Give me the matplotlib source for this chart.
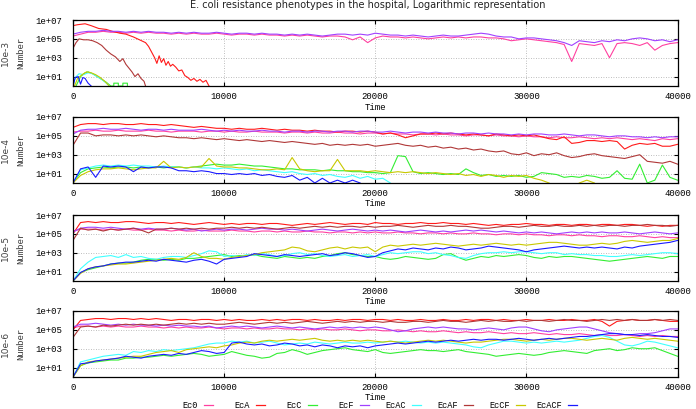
import numpy as np
import matplotlib
matplotlib.use("Agg")
import matplotlib.pyplot as plt
from matplotlib.lines import Line2D
from matplotlib.ticker import NullLocator

# long traces are sampled every 500 time steps
time = np.arange(0, 40001, 500)

labels = ["Ec0", "EcA", "EcC", "EcF", "EcAC", "EcAF", "EcCF", "EcACF"]
colors = ["#ff40a0", "#ff1a1a", "#33ee33", "#a040ff", "#40ffff", "#b03838", "#c8c800", "#1a1aff"]
row_labels = ["10e-3", "10e-4", "10e-5", "10e-6"]
xticks = [0, 10000, 20000, 30000, 40000]
yticks = [1e1, 1e3, 1e5, 1e7]
ytick_labels = ["1e+01", "1e+03", "1e+05", "1e+07"]

# all values are log10(Number); None = population gone

# ---- 10e-3 ----
p1_ec0 = [5.3, 5.5, 5.7, 5.7, 5.8, 5.7, 5.7, 5.6, 5.7, 5.6, 5.7, 5.6, 5.6, 5.5, 5.6, 5.5, 5.6, 5.5, 5.5, 5.6,
          5.5, 5.4, 5.5, 5.5, 5.4, 5.5, 5.4, 5.4, 5.3, 5.4, 5.3, 5.4, 5.3, 5.2, 5.3, 5.3, 5.2, 4.9, 5.2, 4.6,
          5.1, 5.3, 5.2, 5.2, 5.1, 5.2, 5.1, 5.0, 5.1, 5.2, 5.1, 5.2, 5.1, 5.2, 5.2, 5.1, 5.1, 5.0, 4.8, 4.9,
          5.0, 4.9, 4.8, 4.7, 4.6, 4.4, 2.6, 4.5, 4.4, 4.3, 4.5, 3.0, 4.5, 4.6, 4.5, 4.3, 4.6, 3.8, 4.3, 4.5,
          4.6]
p1_ecf = [5.5, 5.7, 5.8, 5.8, 5.9, 5.8, 5.8, 5.7, 5.8, 5.7, 5.8, 5.7, 5.7, 5.6, 5.7, 5.6, 5.7, 5.6, 5.6, 5.7,
          5.6, 5.5, 5.6, 5.6, 5.5, 5.6, 5.5, 5.5, 5.4, 5.5, 5.4, 5.5, 5.4, 5.3, 5.4, 5.5, 5.5, 5.4, 5.5, 5.4,
          5.6, 5.5, 5.4, 5.4, 5.3, 5.4, 5.3, 5.2, 5.3, 5.4, 5.3, 5.3, 5.4, 5.5, 5.6, 5.5, 5.3, 5.2, 5.2, 5.0,
          5.1, 5.1, 5.0, 4.9, 4.8, 4.6, 4.3, 4.8, 4.7, 4.6, 4.8, 4.7, 4.9, 4.8, 5.0, 5.1, 5.0, 4.8, 4.9, 4.7,
          4.9]
p1_eca_t = [0, 300, 800, 1200, 1700, 2200, 2600, 3100, 3500, 4000, 4400, 4800, 5000, 5200, 5400, 5550, 5700,
            5850, 6000, 6150, 6300, 6450, 6600, 6800, 7000, 7200, 7400, 7600, 7800, 8000, 8200, 8400, 8600,
            8800, 9000]
p1_eca = [6.4, 6.5, 6.6, 6.4, 6.1, 6.0, 5.8, 5.6, 5.5, 5.2, 4.9, 4.6, 4.2, 3.6, 3.0, 2.4, 3.2, 2.5, 2.9,
          2.2, 2.6, 2.1, 2.3, 2.0, 1.6, 1.7, 1.1, 0.9, 0.6, 0.8, 0.5, 0.7, 0.4, 0.6, 0.0]
p1_ecaf_t = [0, 200, 400, 700, 1000, 1300, 1600, 1900, 2200, 2500, 2800, 3100, 3300, 3500, 3700, 3900, 4100,
             4300, 4500, 4700, 4800]
p1_ecaf = [4.0, 4.6, 5.0, 4.9, 4.9, 4.8, 4.6, 4.3, 3.8, 3.4, 3.1, 2.6, 2.9, 2.3, 1.9, 1.5, 1.0, 1.3, 0.8,
           0.5, 0.0]
p1_ecac_t = [0, 150, 400, 700, 1000, 1300, 1600, 1900, 2200, 2400]
p1_ecac = [0.0, 0.9, 1.3, 1.2, 1.4, 1.3, 1.0, 0.7, 0.3, 0.0]
p1_eccf_t = [100, 300, 600, 900, 1200, 1500, 1800, 2100, 2400]
p1_eccf = [0.0, 0.8, 1.2, 1.5, 1.4, 1.2, 0.9, 0.5, 0.0]
p1_ecc_t = [200, 500, 800, 1000, 1300, 1600, 1900, 2200, 2500, 2700, 2700, 3000, 3000, 3300, 3300, 3600,
            3600]
p1_ecc = [0.0, 1.0, 1.4, 1.5, 1.3, 1.0, 0.7, 0.4, 0.0, 0.0, 0.3, 0.3, 0.0, 0.0, 0.3, 0.3, 0.0]
p1_ecacf_t = [0, 150, 350, 500, 650, 800, 1000, 1200]
p1_ecacf = [0.0, 0.9, 1.0, 0.2, 0.9, 0.8, 0.3, 0.0]

# ---- 10e-4 ----
p2_ec0 = [5.4, 5.5, 5.5, 5.6, 5.5, 5.5, 5.6, 5.5, 5.5, 5.5, 5.6, 5.5, 5.5, 5.4, 5.5, 5.5, 5.5, 5.4, 5.5, 5.5,
          5.4, 5.5, 5.4, 5.4, 5.5, 5.4, 5.4, 5.4, 5.3, 5.4, 5.4, 5.3, 5.4, 5.3, 5.3, 5.4, 5.3, 5.3, 5.2, 5.3,
          5.3, 5.2, 5.3, 5.2, 5.2, 5.1, 5.2, 5.2, 5.1, 5.2, 5.1, 5.1, 5.0, 5.1, 5.1, 5.0, 5.1, 5.0, 5.0, 4.9,
          5.0, 4.9, 4.9, 4.8, 4.9, 4.8, 4.8, 4.9, 4.8, 4.7, 4.8, 4.7, 4.8, 4.7, 4.6, 4.7, 4.6, 4.5, 4.7, 4.6,
          4.7]
p2_eca = [5.9, 6.2, 6.3, 6.3, 6.2, 6.3, 6.3, 6.2, 6.2, 6.3, 6.2, 6.2, 6.1, 6.2, 6.1, 6.0, 5.9, 6.0, 5.9, 5.8,
          5.8, 5.7, 5.8, 5.7, 5.7, 5.8, 5.7, 5.6, 5.7, 5.6, 5.6, 5.5, 5.6, 5.5, 5.5, 5.4, 5.5, 5.5, 5.4, 5.5,
          5.4, 5.2, 5.3, 5.1, 4.8, 5.0, 5.2, 5.2, 5.3, 5.2, 5.3, 5.2, 5.1, 5.2, 5.1, 5.0, 5.2, 5.1, 5.0, 5.1,
          5.0, 5.1, 4.9, 4.7, 4.6, 4.9, 4.2, 4.3, 4.5, 4.5, 4.4, 4.5, 4.4, 3.6, 4.0, 4.2, 4.1, 4.2, 3.9, 3.9,
          4.1]
p2_ecf = [5.2, 5.6, 5.7, 5.7, 5.8, 5.7, 5.7, 5.8, 5.7, 5.6, 5.7, 5.7, 5.6, 5.7, 5.6, 5.6, 5.6, 5.7, 5.6, 5.5,
          5.6, 5.5, 5.6, 5.5, 5.5, 5.6, 5.5, 5.5, 5.4, 5.5, 5.5, 5.4, 5.5, 5.5, 5.4, 5.5, 5.5, 5.4, 5.5, 5.5,
          5.4, 5.4, 5.5, 5.4, 5.3, 5.4, 5.4, 5.3, 5.4, 5.3, 5.3, 5.2, 5.3, 5.3, 5.2, 5.3, 5.2, 5.2, 5.1, 5.2,
          5.1, 5.2, 5.2, 5.1, 5.1, 5.2, 5.1, 5.0, 5.1, 5.1, 5.0, 4.9, 5.0, 5.0, 4.9, 4.9, 4.8, 4.9, 4.8, 4.9,
          4.9]
p2_ecaf = [4.0, 5.3, 5.3, 5.0, 5.1, 5.1, 5.0, 5.1, 5.0, 5.1, 5.0, 4.9, 5.0, 4.9, 4.8, 4.8, 4.7, 4.8, 4.7, 4.6,
           4.7, 4.6, 4.5, 4.6, 4.5, 4.4, 4.5, 4.4, 4.3, 4.4, 4.3, 4.2, 4.1, 4.2, 4.0, 4.1, 4.0, 4.1, 4.0, 4.1,
           3.9, 4.0, 4.1, 4.2, 4.0, 3.9, 4.0, 3.8, 3.9, 3.7, 3.8, 3.6, 3.7, 3.5, 3.6, 3.4, 3.3, 3.4, 3.1, 3.0,
           3.2, 2.9, 3.1, 3.0, 3.2, 2.9, 2.7, 2.8, 3.0, 3.1, 2.9, 2.8, 2.7, 2.6, 2.8, 3.0, 2.3, 2.2, 2.1, 2.3,
           2.0]
p2_ecc = [0.0, 1.1, 1.5, 1.6, 1.7, 1.6, 1.7, 1.7, 1.6, 1.7, 1.6, 1.7, 1.6, 1.7, 1.7, 1.6, 1.7, 1.8, 1.9, 2.0,
          1.9, 1.9, 2.0, 1.9, 1.8, 1.8, 1.7, 1.6, 1.5, 1.5, 1.4, 1.4, 1.4, 1.3, 1.4, 1.3, 1.3, 1.2, 1.2, 1.1,
          1.1, 1.0, 1.1, 2.9, 2.8, 1.2, 1.0, 1.1, 1.0, 0.9, 1.0, 0.9, 1.5, 1.1, 0.8, 0.9, 0.7, 0.8, 0.7, 0.8,
          0.6, 0.7, 1.1, 1.0, 0.9, 0.6, 0.7, 0.6, 0.8, 0.7, 0.5, 0.6, 1.3, 0.5, 0.4, 2.0, 0.0, 0.3, 1.9, 0.6,
          0.3]
p2_ecac = [0.0, 1.4, 1.6, 1.8, 1.9, 1.8, 1.9, 1.8, 1.9, 1.8, 1.8, 1.7, 1.8, 1.7, 1.7, 1.6, 1.7, 1.6, 1.6, 1.5,
           1.6, 1.5, 1.4, 1.5, 1.3, 1.4, 1.3, 1.2, 1.1, 1.2, 1.0, 0.9, 1.0, 0.8, 0.9, 0.7, 0.6, 0.8, 0.5, 0.7,
           0.4, 0.5, 0.0, None, None, None, None, None, None, None, None, None, None, None, None, None, None,
           None, None, None, None, None, None, None, None, None, None, None, None, None, None, None, None, None,
           None, None, None, None, None, None, None]
p2_eccf = [0.0, 0.8, 1.2, 1.4, 1.5, 1.5, 1.6, 1.5, 1.4, 1.5, 1.6, 1.6, 2.3, 1.6, 1.7, 1.6, 1.7, 1.7, 2.6, 1.8,
           1.7, 1.7, 1.6, 1.6, 1.5, 1.4, 1.4, 1.5, 1.4, 2.7, 1.5, 1.3, 1.2, 1.3, 1.3, 2.5, 1.3, 1.3, 1.3, 1.2,
           1.3, 1.2, 1.1, 1.2, 1.1, 1.2, 1.1, 1.0, 1.1, 1.0, 0.9, 1.0, 0.8, 0.9, 0.7, 0.9, 0.8, 0.6, 0.8, 0.7,
           0.8, 0.5, 0.3, 0.0, None, None, None, 0.0, 0.3, 0.0, None, None, None, None, None, None, None, None,
           None, None, None]
p2_ecacf = [0.0, 1.5, 1.7, 0.6, 1.8, 1.7, 1.8, 1.7, 1.2, 1.7, 1.6, 1.7, 1.7, 1.6, 1.3, 1.3, 1.2, 1.3, 1.2, 1.0,
            1.0, 0.9, 1.0, 0.9, 1.0, 0.8, 0.9, 0.7, 0.6, 0.8, 0.3, 0.6, 0.0, 0.5, 0.0, 0.3, 0.0, 0.3, 0.0, None,
            None, None, None, None, None, None, None, None, None, None, None, None, None, None, None, None, None,
            None, None, None, None, None, None, None, None, None, None, None, None, None, None, None, None, None,
            None, None, None, None, None, None, None]

# ---- 10e-5 ----
p3_ec0 = [5.3, 5.5, 5.5, 5.5, 5.4, 5.5, 5.4, 5.5, 5.4, 5.4, 5.5, 5.4, 5.4, 5.3, 5.4, 5.3, 5.3, 5.4, 5.3, 5.3,
          5.3, 5.4, 5.3, 5.3, 5.2, 5.3, 5.3, 5.2, 5.3, 5.2, 5.2, 5.3, 5.2, 5.2, 5.1, 5.2, 5.2, 5.1, 5.2, 5.1,
          5.2, 5.1, 5.1, 5.2, 5.1, 5.1, 5.0, 5.1, 5.1, 5.0, 5.1, 5.0, 5.0, 5.1, 5.0, 5.0, 4.9, 5.0, 5.0, 4.9,
          5.0, 4.9, 4.9, 4.8, 4.9, 4.9, 4.8, 4.9, 4.8, 4.8, 4.7, 4.8, 4.8, 4.7, 4.7, 4.8, 4.7, 4.6, 4.7, 4.6,
          4.6]
p3_eca = [5.0, 6.2, 6.3, 6.2, 6.3, 6.2, 6.2, 6.3, 6.3, 6.2, 6.1, 6.2, 6.2, 6.1, 6.2, 6.1, 6.0, 6.1, 6.2, 6.1,
          6.0, 6.1, 6.0, 6.1, 6.1, 6.0, 6.1, 6.1, 6.0, 5.9, 6.0, 6.1, 6.0, 6.1, 6.2, 6.1, 6.0, 6.1, 6.1, 6.0,
          6.2, 6.1, 6.1, 6.0, 6.1, 6.1, 6.2, 6.1, 6.1, 6.2, 6.1, 6.1, 6.0, 6.1, 6.0, 5.9, 6.0, 5.9, 6.0, 6.0,
          6.1, 6.0, 6.0, 5.9, 6.0, 6.0, 5.9, 6.0, 6.0, 5.9, 6.0, 6.0, 5.9, 6.0, 6.0, 5.9, 5.8, 5.9, 5.8, 5.9,
          5.9]
p3_ecf = [5.2, 5.6, 5.7, 5.7, 5.6, 5.7, 5.6, 5.5, 5.6, 5.5, 5.6, 5.5, 5.5, 5.6, 5.5, 5.4, 5.5, 5.3, 5.4, 5.5,
          5.4, 5.5, 5.5, 5.4, 5.5, 5.6, 5.5, 5.5, 5.4, 5.5, 5.4, 5.3, 5.4, 5.5, 5.4, 5.3, 5.4, 5.5, 5.4, 5.3,
          5.4, 5.3, 5.4, 5.3, 5.2, 5.3, 5.4, 5.3, 5.2, 5.3, 5.2, 5.3, 5.4, 5.3, 5.4, 5.3, 5.2, 5.3, 5.2, 5.1,
          5.2, 5.1, 5.2, 5.1, 5.0, 5.1, 5.2, 5.1, 5.2, 5.1, 5.2, 5.1, 5.1, 5.2, 5.1, 5.0, 5.1, 5.2, 5.1, 5.0,
          5.1]
p3_ecaf = [4.3, 5.6, 5.4, 5.5, 5.3, 5.5, 5.4, 5.5, 5.6, 5.4, 5.1, 5.5, 5.5, 5.6, 5.5, 5.6, 5.5, 5.6, 5.5, 5.6,
           5.6, 5.7, 5.6, 5.7, 5.6, 5.7, 5.6, 5.5, 5.6, 5.7, 5.6, 5.7, 5.8, 5.7, 5.8, 5.7, 5.8, 5.8, 5.7, 5.8,
           5.7, 5.8, 5.8, 5.9, 5.8, 5.7, 5.8, 5.9, 5.8, 5.8, 5.9, 5.8, 5.8, 5.7, 5.6, 5.6, 5.7, 5.8, 5.8, 5.7,
           5.8, 5.9, 5.8, 5.8, 5.9, 5.8, 5.8, 5.9, 5.8, 5.9, 5.8, 5.9, 5.9, 5.8, 5.9, 5.9, 6.0, 5.9, 5.9, 5.8,
           5.9]
p3_ecc = [0.0, 0.9, 1.2, 1.4, 1.6, 1.8, 1.9, 1.9, 2.0, 2.2, 2.3, 2.3, 2.2, 2.3, 2.2, 2.4, 2.4, 2.5, 2.6, 2.7,
          2.8, 2.6, 2.7, 2.7, 2.8, 2.6, 2.5, 2.4, 2.6, 2.5, 2.4, 2.5, 2.4, 2.6, 2.7, 2.9, 3.0, 2.8, 2.7, 2.6,
          2.6, 2.4, 2.3, 2.4, 2.6, 2.5, 2.4, 2.3, 2.4, 2.8, 2.9, 2.5, 2.2, 2.4, 2.6, 2.5, 2.7, 2.6, 2.7, 2.8,
          2.7, 2.5, 2.4, 2.6, 2.5, 2.6, 2.6, 2.5, 2.4, 2.3, 2.2, 2.1, 2.2, 2.3, 2.4, 2.5, 2.6, 2.5, 2.4, 2.6,
          2.6]
p3_ecac = [0.0, 1.3, 2.0, 2.5, 2.6, 2.7, 2.5, 2.8, 2.5, 2.6, 2.4, 2.3, 2.5, 2.6, 2.6, 2.5, 2.7, 2.9, 3.2, 3.1,
           2.6, 2.7, 2.6, 2.8, 2.7, 2.9, 2.8, 2.6, 2.7, 2.9, 3.0, 2.8, 2.9, 2.7, 2.6, 2.7, 2.8, 2.6, 2.7, 2.8,
           2.6, 2.8, 3.0, 2.9, 3.0, 3.1, 3.1, 2.9, 3.0, 2.8, 2.7, 2.5, 2.4, 2.7, 2.9, 3.0, 3.0, 3.1, 3.0, 3.1,
           3.1, 3.0, 2.9, 3.0, 3.0, 2.8, 2.9, 2.8, 2.8, 2.7, 2.7, 2.6, 2.6, 2.7, 2.8, 2.7, 2.8, 2.9, 3.0, 3.0,
           2.9]
p3_eccf = [0.0, 0.8, 1.3, 1.5, 1.6, 1.7, 1.8, 1.8, 1.9, 2.0, 2.1, 2.2, 2.3, 2.4, 2.3, 2.5, 3.0, 2.6, 2.4, 2.4,
           2.3, 2.5, 2.6, 2.7, 2.8, 3.0, 3.1, 3.2, 3.3, 3.6, 3.5, 3.2, 3.1, 3.3, 3.5, 3.6, 3.4, 3.6, 3.5, 3.6,
           3.1, 3.6, 3.8, 3.7, 3.8, 3.9, 3.8, 3.9, 4.0, 3.9, 3.8, 3.7, 3.8, 3.9, 3.8, 3.9, 4.0, 3.9, 3.8, 3.9,
           3.8, 3.9, 4.0, 4.1, 4.1, 4.0, 3.9, 3.8, 3.8, 3.9, 4.0, 3.9, 4.0, 4.2, 4.3, 4.2, 4.1, 4.2, 4.3, 4.3,
           4.5]
p3_ecacf = [0.0, 0.9, 1.3, 1.5, 1.6, 1.8, 1.9, 2.0, 2.0, 2.1, 2.2, 2.1, 2.3, 2.2, 2.1, 2.0, 2.2, 2.3, 2.1, 1.8,
            2.3, 2.4, 2.5, 2.6, 2.9, 2.8, 2.7, 2.6, 2.8, 2.7, 2.6, 2.7, 2.8, 2.9, 2.7, 2.8, 3.0, 2.9, 2.7, 2.5,
            2.6, 3.0, 3.2, 3.4, 3.3, 3.5, 3.4, 3.3, 3.5, 3.4, 3.6, 3.5, 3.3, 3.4, 3.5, 3.7, 3.6, 3.5, 3.4, 3.3,
            3.1, 3.3, 3.4, 3.5, 3.6, 3.7, 3.6, 3.5, 3.6, 3.5, 3.6, 3.5, 3.4, 3.6, 3.5, 3.7, 3.8, 3.9, 4.0, 4.1,
            4.3]

# ---- 10e-6 ----
p4_ec0 = [5.2, 5.4, 5.4, 5.3, 5.4, 5.3, 5.4, 5.3, 5.3, 5.4, 5.3, 5.3, 5.2, 5.3, 5.2, 5.3, 5.2, 5.2, 5.3, 5.2,
          5.1, 5.2, 5.2, 5.1, 5.2, 5.1, 5.1, 5.2, 5.1, 5.1, 5.0, 5.1, 5.0, 5.1, 5.0, 5.0, 5.1, 5.0, 4.9, 5.0,
          5.0, 4.9, 4.9, 5.0, 4.9, 4.8, 4.9, 4.8, 4.8, 4.9, 4.8, 4.7, 4.8, 4.7, 4.7, 4.8, 4.7, 4.6, 4.7, 4.6,
          4.6, 4.7, 4.6, 4.5, 4.6, 4.5, 4.5, 4.6, 4.5, 4.4, 4.5, 4.4, 4.4, 4.5, 4.4, 4.3, 4.4, 4.3, 4.4, 4.3,
          4.3]
p4_eca = [5.0, 6.0, 6.1, 6.2, 6.2, 6.1, 6.2, 6.2, 6.1, 6.2, 6.1, 6.2, 6.1, 6.0, 6.1, 6.1, 6.0, 6.1, 6.1, 6.0,
          6.1, 6.0, 6.1, 6.0, 6.0, 6.1, 6.0, 6.1, 6.0, 6.1, 6.1, 6.0, 6.1, 6.0, 6.0, 6.1, 6.0, 6.1, 6.1, 6.0,
          6.1, 6.1, 6.0, 6.1, 6.0, 6.0, 6.1, 6.0, 6.0, 6.1, 6.0, 6.0, 6.1, 6.0, 6.1, 6.1, 6.0, 6.1, 6.0, 6.0,
          6.1, 6.0, 6.0, 6.1, 6.0, 6.0, 6.1, 6.0, 6.0, 6.1, 5.9, 5.4, 5.9, 6.0, 6.1, 6.0, 6.0, 6.1, 6.0, 5.9,
          5.9]
p4_ecf = [5.3, 5.6, 5.6, 5.7, 5.6, 5.5, 5.6, 5.5, 5.6, 5.5, 5.5, 5.4, 5.5, 5.4, 5.5, 5.4, 5.4, 5.3, 5.4, 5.2,
          5.3, 5.4, 5.3, 5.4, 5.3, 5.2, 5.3, 5.4, 5.3, 5.2, 5.3, 5.2, 5.1, 5.2, 5.3, 5.2, 5.3, 5.2, 5.3, 5.2,
          5.3, 5.2, 5.0, 4.8, 4.9, 5.1, 5.2, 5.3, 5.2, 5.3, 5.2, 5.1, 5.1, 5.0, 5.1, 5.2, 5.1, 5.0, 5.2, 5.3,
          5.3, 5.1, 4.9, 4.8, 5.0, 5.1, 5.2, 5.3, 5.3, 5.1, 4.9, 4.7, 4.6, 4.5, 4.5, 4.6, 4.6, 4.7, 4.9, 5.1,
          5.1]
p4_ecaf = [4.2, 5.3, 5.4, 5.3, 5.5, 5.4, 5.5, 5.6, 5.5, 5.6, 5.5, 5.6, 5.5, 5.6, 5.7, 5.6, 5.7, 5.6, 5.7, 5.6,
           5.6, 5.7, 5.8, 5.7, 5.6, 5.7, 5.8, 5.7, 5.8, 5.7, 5.8, 5.9, 5.8, 5.7, 5.8, 5.9, 5.8, 5.9, 5.8, 5.9,
           5.9, 5.8, 5.9, 5.8, 5.8, 5.9, 5.9, 5.8, 5.9, 6.0, 5.9, 5.9, 5.8, 5.9, 6.0, 5.9, 6.0, 5.9, 5.9, 6.0,
           5.9, 6.0, 6.0, 5.9, 6.0, 6.1, 6.0, 6.0, 5.9, 6.0, 6.1, 6.0, 6.1, 6.0, 6.1, 6.0, 6.0, 6.1, 6.0, 6.1,
           6.0]
p4_ecc = [0.0, 1.2, 1.5, 1.6, 1.7, 1.8, 1.8, 2.0, 2.0, 2.1, 2.1, 2.2, 2.3, 2.2, 2.3, 2.4, 2.5, 2.4, 2.2, 2.3,
          2.4, 2.7, 2.5, 2.3, 2.2, 2.0, 2.1, 2.5, 2.6, 2.9, 2.7, 2.4, 2.6, 2.8, 2.9, 3.0, 3.1, 2.9, 2.8, 2.7,
          2.9, 2.6, 2.5, 2.6, 2.7, 2.8, 2.9, 2.8, 2.8, 2.7, 2.8, 2.9, 2.7, 2.6, 2.5, 2.4, 2.2, 2.3, 2.4, 2.5,
          2.4, 2.3, 2.4, 2.6, 2.7, 2.8, 2.7, 2.6, 2.5, 2.8, 2.9, 3.0, 2.8, 2.9, 3.1, 3.0, 3.0, 3.1, 2.8, 2.5,
          2.2]
p4_ecac = [0.0, 1.6, 1.8, 2.0, 2.2, 2.3, 2.4, 2.3, 2.7, 2.6, 2.8, 2.7, 2.9, 2.8, 2.9, 3.0, 3.1, 3.3, 3.5, 3.6,
           3.6, 3.8, 3.7, 3.8, 3.6, 3.7, 3.8, 3.6, 3.4, 3.5, 3.6, 3.5, 3.7, 3.6, 3.5, 3.6, 3.7, 3.6, 3.6, 3.7,
           3.6, 3.7, 3.8, 3.7, 3.8, 3.7, 3.6, 3.7, 3.6, 3.7, 3.6, 3.5, 3.4, 3.2, 3.1, 3.4, 3.6, 3.8, 3.8, 3.7,
           3.6, 3.7, 3.6, 3.7, 3.8, 3.7, 3.8, 3.9, 4.1, 4.3, 4.4, 4.2, 3.8, 3.4, 3.3, 3.5, 3.8, 3.7, 3.5, 3.3,
           3.1]
p4_eccf = [0.0, 1.2, 1.6, 1.7, 1.8, 1.9, 2.0, 2.1, 2.2, 2.2, 2.4, 2.6, 2.7, 2.8, 2.6, 2.9, 3.0, 3.1, 3.2, 3.1,
           3.3, 3.4, 3.6, 3.7, 3.6, 3.8, 3.9, 3.8, 3.9, 4.0, 3.9, 4.0, 4.1, 3.9, 3.8, 3.9, 3.8, 3.9, 3.8, 3.9,
           3.8, 3.7, 3.8, 3.7, 3.6, 3.7, 3.8, 3.9, 3.8, 3.9, 3.8, 3.7, 3.6, 3.7, 3.7, 3.8, 3.9, 4.0, 4.0, 3.9,
           3.8, 3.9, 4.0, 3.9, 4.0, 4.1, 4.1, 4.0, 3.9, 4.0, 4.1, 4.0, 3.9, 4.1, 4.2, 4.1, 4.0, 4.1, 4.0, 3.9,
           3.8]
p4_ecacf = [0.0, 1.4, 1.5, 1.7, 1.8, 1.9, 2.0, 2.2, 2.1, 2.0, 2.2, 2.3, 2.4, 2.3, 2.5, 2.4, 2.6, 2.8, 2.7, 2.5,
            2.6, 3.6, 3.7, 3.5, 3.4, 3.5, 3.3, 3.4, 3.6, 3.5, 3.3, 3.4, 3.2, 3.4, 3.3, 3.1, 3.3, 3.2, 3.3, 3.1,
            3.3, 3.4, 3.5, 3.6, 3.5, 3.6, 3.7, 3.8, 3.7, 3.8, 3.9, 3.8, 3.9, 4.0, 3.9, 4.0, 4.0, 3.9, 4.0, 4.1,
            4.0, 3.9, 4.0, 4.1, 4.0, 4.1, 4.2, 4.3, 4.3, 4.4, 4.5, 4.6, 4.6, 4.5, 4.5, 4.4, 4.5, 4.4, 4.3, 4.3,
            4.2]

panels = [
    [(time, p1_ec0), (p1_eca_t, p1_eca), (p1_ecc_t, p1_ecc), (time, p1_ecf),
     (p1_ecac_t, p1_ecac), (p1_ecaf_t, p1_ecaf), (p1_eccf_t, p1_eccf), (p1_ecacf_t, p1_ecacf)],
    [(time, p2_ec0), (time, p2_eca), (time, p2_ecc), (time, p2_ecf),
     (time, p2_ecac), (time, p2_ecaf), (time, p2_eccf), (time, p2_ecacf)],
    [(time, p3_ec0), (time, p3_eca), (time, p3_ecc), (time, p3_ecf),
     (time, p3_ecac), (time, p3_ecaf), (time, p3_eccf), (time, p3_ecacf)],
    [(time, p4_ec0), (time, p4_eca), (time, p4_ecc), (time, p4_ecf),
     (time, p4_ecac), (time, p4_ecaf), (time, p4_eccf), (time, p4_ecacf)],
]

plt.rcParams['font.family'] = ['Liberation Mono', 'DejaVu Sans Mono']

W, H = 696, 409
fig = plt.figure(figsize=(W / 100, H / 100), dpi=100)

ax_left, ax_width, ax_height = 73, 604.5, 66
tops = [20, 117, 215, 311]

for i, series in enumerate(panels):
    ax = fig.add_axes([ax_left / W, 1 - (tops[i] + ax_height) / H, ax_width / W, ax_height / H])
    for (t, v), col in zip(series, colors):
        y = 10 ** np.array(v, dtype=float)
        ax.plot(t, y, color=col, lw=0.8)
    ax.set_yscale('log')
    ax.set_ylim(1, 1e7)
    ax.set_xlim(0, 40000)
    ax.set_yticks(yticks)
    ax.set_yticklabels(ytick_labels)
    ax.yaxis.set_minor_locator(NullLocator())
    ax.set_xticks(xticks)
    ax.set_xticklabels([str(x) for x in xticks])
    ax.tick_params(direction='in', top=True, right=True, length=3, width=0.8,
                   labelsize=6.5, colors='black')
    ax.tick_params(axis='y', pad=8)
    ax.tick_params(axis='x', pad=4)
    ax.set_axisbelow(True)
    ax.grid(True, color='#a8a8a8', linestyle=(0, (1, 2)), linewidth=0.6)
    for s in ax.spines.values():
        s.set_linewidth(0.9)
    ax.set_xlabel('Time', fontsize=6.5)
    ax.xaxis.set_label_coords(0.5, -0.25)
    ax.set_ylabel('Number', fontsize=6.5, color='#333333')
    ax.yaxis.set_label_coords(-0.079, 0.5)
    fig.text(5 / W, 1 - (tops[i] + ax_height / 2) / H, row_labels[i], rotation=90,
             ha='center', va='center', fontsize=6.5, color='#444444', family='DejaVu Sans')

fig.text(367.5 / W, 1 - 5 / H, "E. coli resistance phenotypes in the hospital, Logarithmic representation",
         ha='center', va='center', fontsize=7, family='DejaVu Sans', color='#222222')

# key row under the last panel, text right-justified before the sample
key_y = 1 - 405 / H
for k, (lab, col) in enumerate(zip(labels, colors)):
    xr = 198 + 52 * k
    fig.text(xr / W, key_y, lab, ha='right', va='center', fontsize=6.2)
    fig.add_artist(Line2D([(xr + 6) / W, (xr + 15) / W], [key_y, key_y], color=col, lw=0.9,
                          transform=fig.transFigure))

fig.savefig("out.png", dpi=100)
